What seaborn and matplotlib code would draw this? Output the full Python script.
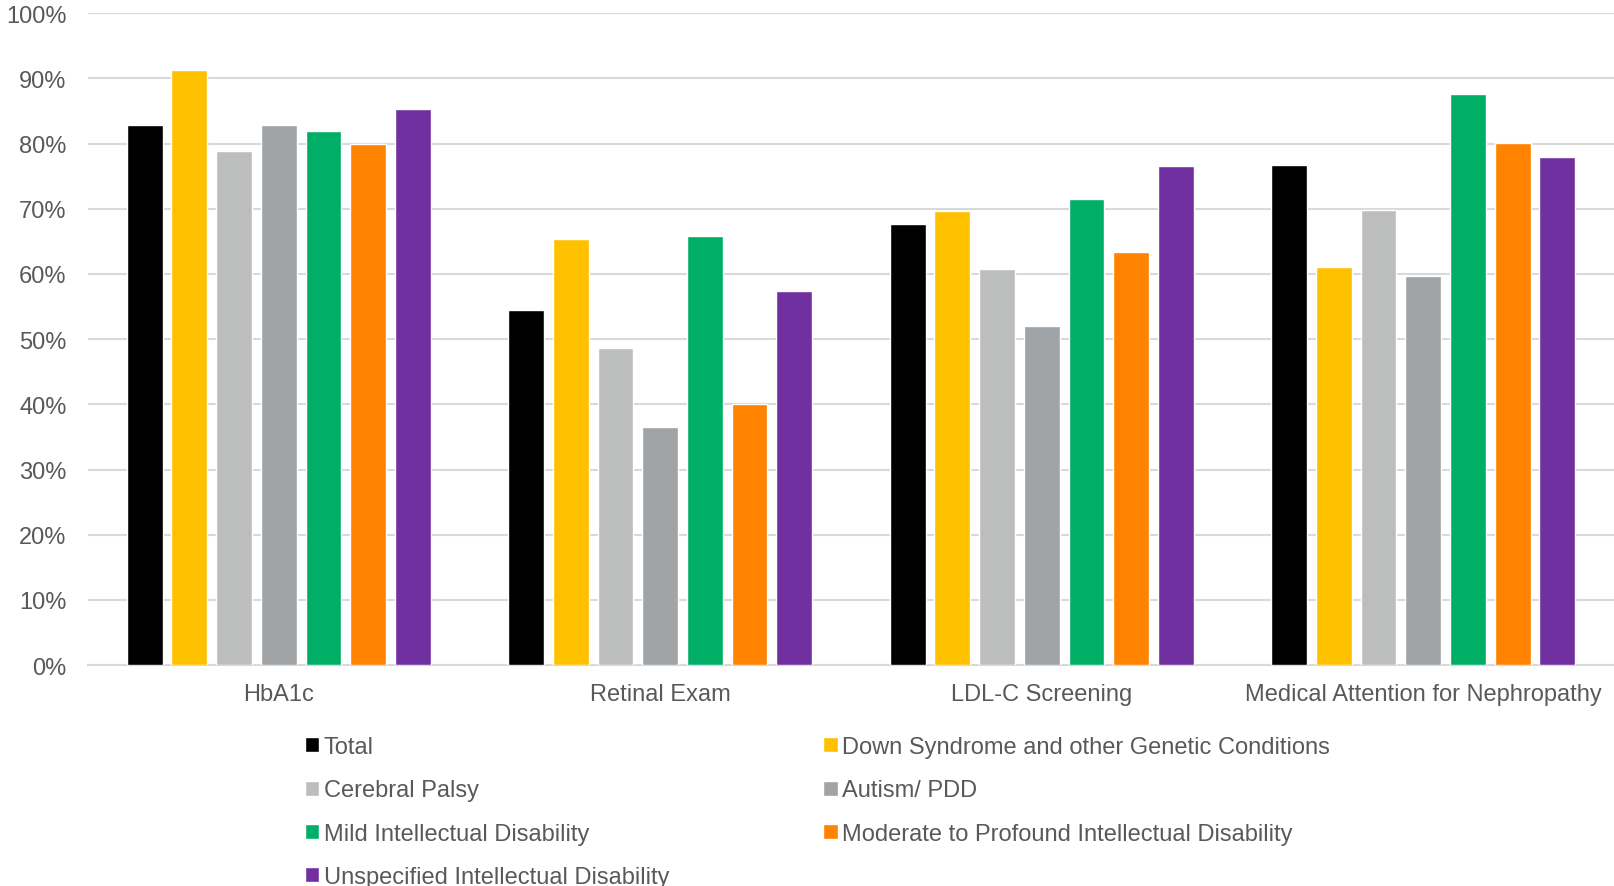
import numpy as np
import pandas as pd
import seaborn as sns
import matplotlib.pyplot as plt
from matplotlib.ticker import PercentFormatter

MEASURES = ['HbA1c', 'Retinal Exam', 'LDL-C Screening', 'Medical Attention for Nephropathy']

GROUPS = [
    'Total', 'Down Syndrome and other Genetic Conditions', 'Cerebral Palsy',
    'Autism/ PDD', 'Mild Intellectual Disability',
    'Moderate to Profound Intellectual Disability', 'Unspecified Intellectual Disability'
]

COLORS = ['#000000', '#FFC000', '#BCBEBD', '#A0A4A7', '#00AE65', '#FF8200', '#7030A0']

# percent values per group, in MEASURES order
total = [82.9, 54.5, 67.6, 76.7]
down_syndrome = [91.3, 65.3, 69.7, 61.0]
cerebral_palsy = [78.9, 48.6, 60.7, 69.8]
autism = [82.8, 36.6, 52.0, 59.7]
mild_id = [81.9, 65.8, 71.5, 87.6]
moderate_id = [80.0, 40.1, 63.4, 80.1]
unspecified_id = [85.3, 57.4, 76.6, 78.0]

values = [total, down_syndrome, cerebral_palsy, autism, mild_id, moderate_id, unspecified_id]

rows = []
for group, vals in zip(GROUPS, values):
    for measure, v in zip(MEASURES, vals):
        rows.append({'Measure': measure, 'Group': group, 'Value': v})
df = pd.DataFrame(rows)

sns.set_style('white')
plt.rcParams['font.family'] = ['Liberation Sans', 'DejaVu Sans']
TEXT = '#595959'
GRID = '#D9D9D9'
FS = 17

fig = plt.figure(figsize=(16.14, 8.87), dpi=100)
ax = fig.add_axes([0.0545, 0.249, 0.9455, 0.735])

sns.barplot(data=df, x='Measure', y='Value', hue='Group', order=MEASURES,
            hue_order=GROUPS, palette=COLORS, width=0.82, gap=0.2,
            saturation=1, ax=ax, zorder=3)

ax.set_ylim(0, 100)
ax.set_xlim(-0.5, len(MEASURES) - 0.5)
ax.set_yticks(np.arange(0, 101, 10))
ax.yaxis.set_major_formatter(PercentFormatter(decimals=0))
ax.grid(axis='y', color=GRID, linewidth=1.5, zorder=0)
ax.set_axisbelow(True)
for side in ['top', 'right', 'left']:
    ax.spines[side].set_visible(False)
ax.spines['bottom'].set_color(GRID)
ax.spines['bottom'].set_linewidth(1.5)
ax.set_xlabel('')
ax.set_ylabel('')
ax.tick_params(axis='both', length=0, labelsize=FS, colors=TEXT)
ax.tick_params(axis='y', pad=15.5)
ax.tick_params(axis='x', pad=13)

handles, labels = ax.get_legend_handles_labels()
ax.get_legend().remove()
order = [0, 2, 4, 6, 1, 3, 5]
fig.legend([handles[i] for i in order], [labels[i] for i in order],
           loc='upper left', bbox_to_anchor=(0.189, 0.169), ncol=2, frameon=False,
           fontsize=FS, labelcolor=TEXT, handlelength=0.6, handleheight=0.6,
           handletextpad=0.2, columnspacing=6.52, labelspacing=0.9,
           borderaxespad=0, borderpad=0)

fig.savefig('out.png', dpi=100)
